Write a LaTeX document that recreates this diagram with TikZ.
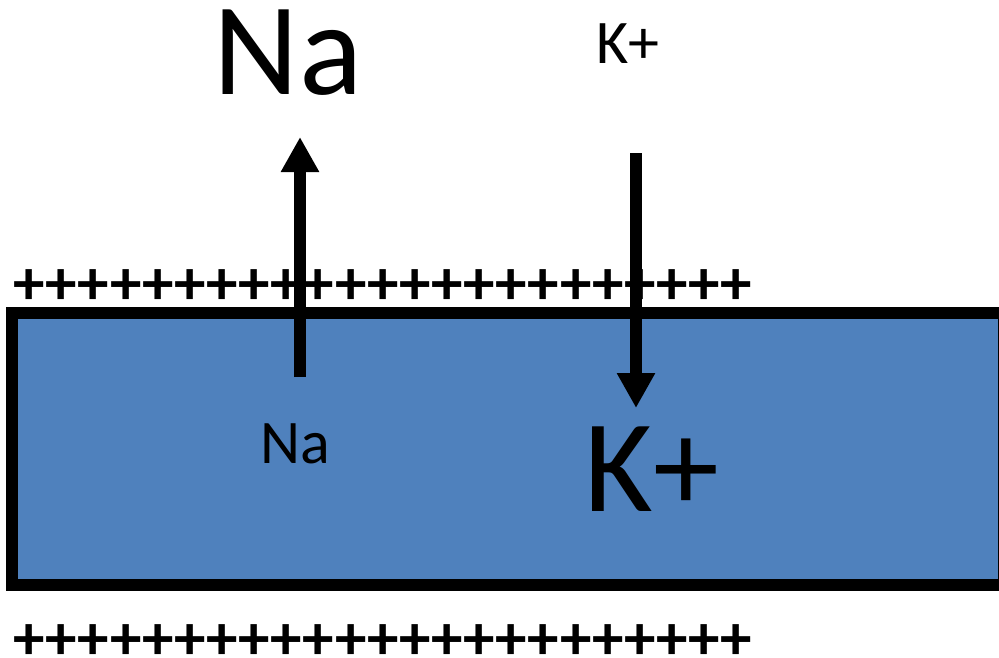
\documentclass[tikz,border=0pt]{standalone}
\usepackage{fontspec}
\setmainfont{Carlito}
\usetikzlibrary{arrows.meta}
\definecolor{cellblue}{HTML}{4F81BD}
\tikzset{
  ion/.style={inner sep=0pt, anchor=base},
  bigion/.style={ion, font=\fontsize{132}{140}\selectfont},
  smallion/.style={ion, font=\fontsize{62}{70}\selectfont},
  charges/.style={inner sep=0pt, anchor=base, text depth=0pt, font=\fontsize{63}{70}\selectfont\bfseries},
  pump/.style={line width=12pt, -{Triangle[width=36pt,length=35pt]}},
}
\begin{document}
\begin{tikzpicture}[x=1pt,y=-1pt]
  \useasboundingbox (0,0) rectangle (999,657);
  % membrane
  \draw[line width=12pt, fill=cellblue] (12,313) rectangle (1004,585);
  \node[charges] (outside) at (383,304) {+++++++++++++++++++++++};
  \node[charges] (inside) at (383,659) {+++++++++++++++++++++++};
  % pumps
  \coordinate (nafoot) at (300,377);
  \coordinate (natip) at (300,137);
  \coordinate (ktail) at (636,153);
  \coordinate (ktip) at (636,408);
  \draw[pump] (nafoot) -- (natip);
  \draw[pump] (ktail) -- (ktip);
  % ions
  \node[bigion] (naout) at (288,94) {Na};
  \node[smallion] (nain) at (295,463) {Na};
  \node[smallion] (kout) at (628,63) {K+};
  \node[bigion] (kin) at (652,511) {K+};
\end{tikzpicture}
\end{document}
